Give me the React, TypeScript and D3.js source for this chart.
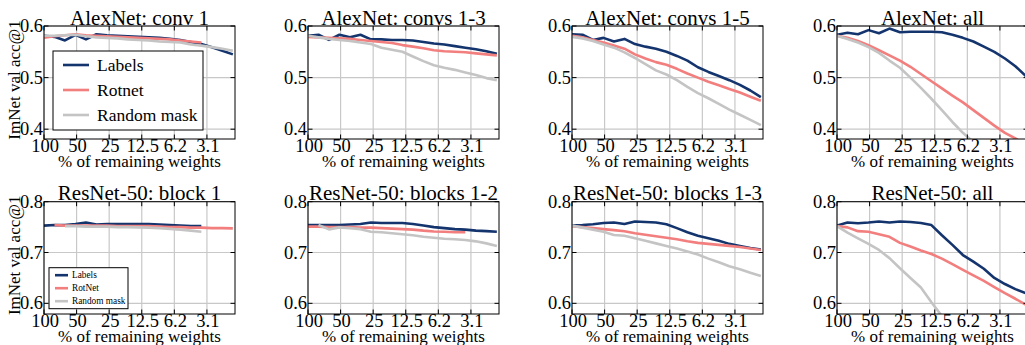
import React from 'react';
import * as d3 from 'd3';

// Fraction of remaining weights (%) at each pruning step (20% pruned per step)
const STEPS = [100, 80, 64, 51.2, 40.96, 32.77, 26.21, 20.97, 16.78, 13.42, 10.74, 8.59, 6.87, 5.5, 4.4, 3.52, 2.81, 2.25, 1.8];
const X_TICKS = [100, 50, 25, 12.5, 6.25, 3.125];
const X_TICK_LABELS = ['100', '50', '25', '12.5', '6.2', '3.1'];
const ALEX_Y_TICKS = [0.4, 0.5, 0.6];
const RES_Y_TICKS = [0.6, 0.7, 0.8];
const SERIES_TOP = ['Labels', 'Rotnet', 'Random mask'];
const SERIES_BOTTOM = ['Labels', 'RotNet', 'Random mask'];
const TITLES = [
  'AlexNet: conv 1', 'AlexNet: convs 1-3', 'AlexNet: convs 1-5', 'AlexNet: all',
  'ResNet-50: block 1', 'ResNet-50: blocks 1-2', 'ResNet-50: blocks 1-3', 'ResNet-50: all',
];

type V = number | null;

const alexConv1Labels: V[] = [0.581, 0.579, 0.572, 0.583, 0.574, 0.584, 0.582, 0.581, 0.580, 0.579, 0.578, 0.577, 0.575, 0.573, 0.569, 0.565, 0.559, 0.552, 0.545];
const alexConv1Rotnet: V[] = [0.5775, 0.580, 0.582, 0.584, 0.582, 0.581, 0.580, 0.579, 0.578, 0.577, 0.576, 0.575, 0.574, 0.572, 0.570, 0.568];
const alexConv1Random: V[] = [0.581, 0.581, 0.582, 0.583, 0.580, 0.578, 0.577, 0.576, 0.574, 0.573, 0.572, 0.570, 0.569, 0.568, 0.564, 0.562, 0.559, 0.556, 0.552];

const alexConv13Labels: V[] = [0.581, 0.583, 0.573, 0.583, 0.578, 0.583, 0.574, 0.574, 0.573, 0.573, 0.572, 0.569, 0.566, 0.564, 0.561, 0.558, 0.555, 0.551, 0.546];
const alexConv13Rotnet: V[] = [0.579, 0.578, 0.577, 0.576, 0.575, 0.573, 0.571, 0.569, 0.567, 0.563, 0.560, 0.557, 0.553, 0.551, 0.550, 0.549, 0.547, 0.545, 0.543];
const alexConv13Random: V[] = [0.581, 0.578, 0.575, 0.573, 0.571, 0.568, 0.565, 0.558, 0.554, 0.550, 0.541, 0.532, 0.524, 0.519, 0.515, 0.510, 0.505, 0.499, 0.495];

const alexConv15Labels: V[] = [0.584, 0.583, 0.573, 0.577, 0.570, 0.575, 0.565, 0.560, 0.556, 0.550, 0.542, 0.533, 0.520, 0.511, 0.503, 0.495, 0.486, 0.475, 0.462];
const alexConv15Rotnet: V[] = [0.581, 0.578, 0.573, 0.568, 0.562, 0.556, 0.545, 0.537, 0.530, 0.525, 0.517, 0.508, 0.500, 0.492, 0.485, 0.478, 0.471, 0.463, 0.455];
const alexConv15Random: V[] = [0.579, 0.576, 0.571, 0.564, 0.558, 0.549, 0.538, 0.526, 0.514, 0.506, 0.495, 0.482, 0.470, 0.460, 0.449, 0.438, 0.428, 0.418, 0.408];

const alexAllLabels: V[] = [0.583, 0.587, 0.584, 0.592, 0.586, 0.595, 0.588, 0.589, 0.589, 0.589, 0.588, 0.583, 0.577, 0.570, 0.560, 0.550, 0.537, 0.522, 0.503];
const alexAllRotnet: V[] = [0.581, 0.577, 0.571, 0.563, 0.553, 0.543, 0.533, 0.521, 0.507, 0.493, 0.479, 0.465, 0.452, 0.437, 0.422, 0.407, 0.393, 0.382, 0.370];
const alexAllRandom: V[] = [0.581, 0.575, 0.568, 0.559, 0.548, 0.533, 0.519, 0.500, 0.480, 0.459, 0.437, 0.414, 0.393, 0.375, 0.360];

const resBlock1Labels: V[] = [0.753, 0.754, 0.754, 0.756, 0.759, 0.755, 0.756, 0.756, 0.756, 0.756, 0.756, 0.755, 0.754, 0.753, 0.752, 0.752];
const resBlock1Rotnet: V[] = [null, 0.754, 0.753, 0.753, 0.753, 0.753, 0.753, 0.752, 0.752, 0.752, 0.752, 0.751, 0.750, 0.750, 0.749, 0.749, 0.748, 0.748, 0.7475];
const resBlock1Random: V[] = [null, null, 0.752, 0.752, 0.751, 0.751, 0.751, 0.750, 0.750, 0.7495, 0.749, 0.748, 0.7465, 0.745, 0.743, 0.741];

const resBlocks12Labels: V[] = [0.754, 0.754, 0.754, 0.754, 0.755, 0.756, 0.759, 0.758, 0.758, 0.758, 0.756, 0.753, 0.750, 0.748, 0.746, 0.745, 0.743, 0.742, 0.741];
const resBlocks12Rotnet: V[] = [0.751, 0.751, 0.750, 0.750, 0.750, 0.749, 0.749, 0.748, 0.747, 0.746, 0.745, 0.743, 0.7415, 0.741, 0.740, 0.740];
const resBlocks12Random: V[] = [null, 0.754, 0.7455, 0.7495, 0.748, 0.746, 0.741, 0.740, 0.738, 0.736, 0.734, 0.731, 0.729, 0.727, 0.726, 0.7245, 0.722, 0.718, 0.713];

const resBlocks13Labels: V[] = [0.753, 0.754, 0.7555, 0.758, 0.759, 0.756, 0.761, 0.760, 0.759, 0.7555, 0.748, 0.740, 0.733, 0.728, 0.723, 0.717, 0.713, 0.709, 0.706];
const resBlocks13Rotnet: V[] = [0.752, 0.750, 0.748, 0.746, 0.744, 0.742, 0.738, 0.735, 0.732, 0.729, 0.726, 0.722, 0.719, 0.717, 0.715, 0.713, 0.711, 0.708, 0.705];
const resBlocks13Random: V[] = [0.753, 0.749, 0.745, 0.741, 0.7345, 0.733, 0.728, 0.723, 0.718, 0.713, 0.708, 0.702, 0.696, 0.688, 0.681, 0.673, 0.667, 0.660, 0.654];

const resAllLabels: V[] = [0.753, 0.759, 0.7575, 0.759, 0.761, 0.759, 0.761, 0.760, 0.758, 0.754, 0.734, 0.715, 0.695, 0.682, 0.668, 0.650, 0.638, 0.628, 0.620];
const resAllRotnet: V[] = [0.752, 0.7495, 0.742, 0.741, 0.736, 0.731, 0.719, 0.712, 0.704, 0.697, 0.688, 0.677, 0.666, 0.655, 0.644, 0.632, 0.620, 0.609, 0.597];
const resAllRandom: V[] = [0.752, 0.739, 0.728, 0.717, 0.705, 0.689, 0.669, 0.650, 0.631, 0.602, 0.575];

const PANEL_DATA: V[][][] = [
  [alexConv1Labels, alexConv1Rotnet, alexConv1Random],
  [alexConv13Labels, alexConv13Rotnet, alexConv13Random],
  [alexConv15Labels, alexConv15Rotnet, alexConv15Random],
  [alexAllLabels, alexAllRotnet, alexAllRandom],
  [resBlock1Labels, resBlock1Rotnet, resBlock1Random],
  [resBlocks12Labels, resBlocks12Rotnet, resBlocks12Random],
  [resBlocks13Labels, resBlocks13Rotnet, resBlocks13Random],
  [resAllLabels, resAllRotnet, resAllRandom],
];

// ---- layout / style ----
const W = 1025;
const H = 345;
const COL_LEFT = [44, 308, 572, 837];
const PLOT_W = 191;
const ROW_TOP = [26, 201.7];
const PLOT_H = [113, 112.3];
const Y_DOMAINS: [number, number][] = [[0.381, 0.6], [0.579, 0.8]];
const COLORS = ['#14346e', '#f27e7e', '#c4c4c4'];
const FONT = '"Liberation Serif", "Times New Roman", "DejaVu Serif", serif';
const TICK_LEN = 4.5;

function Panel({ idx }: { idx: number }) {
  const row = idx < 4 ? 0 : 1;
  const col = idx % 4;
  const left = COL_LEFT[col];
  const top = ROW_TOP[row];
  const h = PLOT_H[row];
  const right = left + PLOT_W;
  const x = d3.scaleLog().domain([100, 1.72]).range([left, right]);
  const y = d3.scaleLinear().domain(Y_DOMAINS[row]).range([top + h, top]);
  const yTicks = row === 0 ? ALEX_Y_TICKS : RES_Y_TICKS;
  const clipId = `clip-${idx}`;
  const line = d3
    .line<V>()
    .defined((d) => d !== null)
    .x((_, i) => x(STEPS[i]))
    .y((d) => y(d as number));
  const bottom = top + h;
  return (
    <g>
      <defs>
        <clipPath id={clipId}>
          <rect x={left} y={top} width={PLOT_W} height={h} />
        </clipPath>
      </defs>
      {X_TICKS.map((t) => (
        <line key={'gx' + t} x1={x(t)} x2={x(t)} y1={top} y2={bottom} stroke="#c8c8c8" strokeWidth={1.2} />
      ))}
      {yTicks.map((t) => (
        <line key={'gy' + t} x1={left} x2={right} y1={y(t)} y2={y(t)} stroke="#c8c8c8" strokeWidth={1.2} />
      ))}
      <g clipPath={`url(#${clipId})`}>
        {PANEL_DATA[idx].map((s, si) => (
          <path key={si} d={line(s) || ''} fill="none" stroke={COLORS[si]} strokeWidth={2.6} strokeLinejoin="round" />
        ))}
      </g>
      {X_TICKS.map((t) => (
        <g key={'tk' + t}>
          <line x1={x(t)} x2={x(t)} y1={bottom} y2={bottom - TICK_LEN} stroke="#000" strokeWidth={1} />
          <line x1={x(t)} x2={x(t)} y1={top} y2={top + TICK_LEN} stroke="#000" strokeWidth={1} />
        </g>
      ))}
      {yTicks.map((t) => (
        <g key={'tky' + t}>
          <line x1={left} x2={left + TICK_LEN} y1={y(t)} y2={y(t)} stroke="#000" strokeWidth={1} />
          <line x1={right} x2={right - TICK_LEN} y1={y(t)} y2={y(t)} stroke="#000" strokeWidth={1} />
        </g>
      ))}
      <rect x={left} y={top} width={PLOT_W} height={h} fill="none" stroke="#000" strokeWidth={1} />
      {yTicks.map((t) => (
        <text key={'ty' + t} x={left - 1} y={y(t)} dy="0.33em" textAnchor="end" fontSize={18.5} fontFamily={FONT}>
          {t.toFixed(1)}
        </text>
      ))}
      {X_TICKS.map((t, i) => (
        <text key={'tx' + t} x={x(t) + 1} y={bottom + 13} textAnchor="middle" fontSize={18.5} fontFamily={FONT}>
          {X_TICK_LABELS[i]}
        </text>
      ))}
      <text x={left + PLOT_W / 2} y={top - 1.5} textAnchor="middle" fontSize={21} fontFamily={FONT}>
        {TITLES[idx]}
      </text>
      <text x={left + PLOT_W / 2} y={bottom + 28} textAnchor="middle" fontSize={17} fontFamily={FONT}>
        % of remaining weights
      </text>
      {col === 0 && (
        <text
          transform={`translate(20,${top + h / 2 - 2.5}) rotate(-90)`}
          textAnchor="middle"
          fontSize={17}
          fontFamily={FONT}
        >
          ImNet val acc@1
        </text>
      )}
      {col === 0 && row === 0 && (
        <g>
          <rect x={left + 9} y={top + 25} width={150} height={79} fill="#fff" stroke="#000" strokeWidth={1} />
          {SERIES_TOP.map((name, i) => {
            const cy = top + 39 + i * 25;
            return (
              <g key={name}>
                <line x1={left + 19} x2={left + 45} y1={cy} y2={cy} stroke={COLORS[i]} strokeWidth={2.6} />
                <text x={left + 53} y={cy} dy="0.33em" fontSize={17.5} fontFamily={FONT}>
                  {name}
                </text>
              </g>
            );
          })}
        </g>
      )}
      {col === 0 && row === 1 && (
        <g>
          <rect x={left + 5} y={top + 66} width={79} height={41} fill="#fff" stroke="#000" strokeWidth={1} />
          {SERIES_BOTTOM.map((name, i) => {
            const cy = top + 73.5 + i * 13;
            return (
              <g key={name}>
                <line x1={left + 11} x2={left + 24} y1={cy} y2={cy} stroke={COLORS[i]} strokeWidth={2.6} />
                <text x={left + 28} y={cy} dy="0.33em" fontSize={9.3} fontFamily={FONT}>
                  {name}
                </text>
              </g>
            );
          })}
        </g>
      )}
    </g>
  );
}

export default function App() {
  return (
    <svg
      width={W}
      height={H}
      viewBox={`0 0 ${W} ${H}`}
      style={{ position: 'absolute', left: 0, top: 0, background: '#fff' }}
    >
      <rect x={0} y={0} width={W} height={H} fill="#fff" />
      {TITLES.map((_, i) => (
        <Panel key={i} idx={i} />
      ))}
    </svg>
  );
}
